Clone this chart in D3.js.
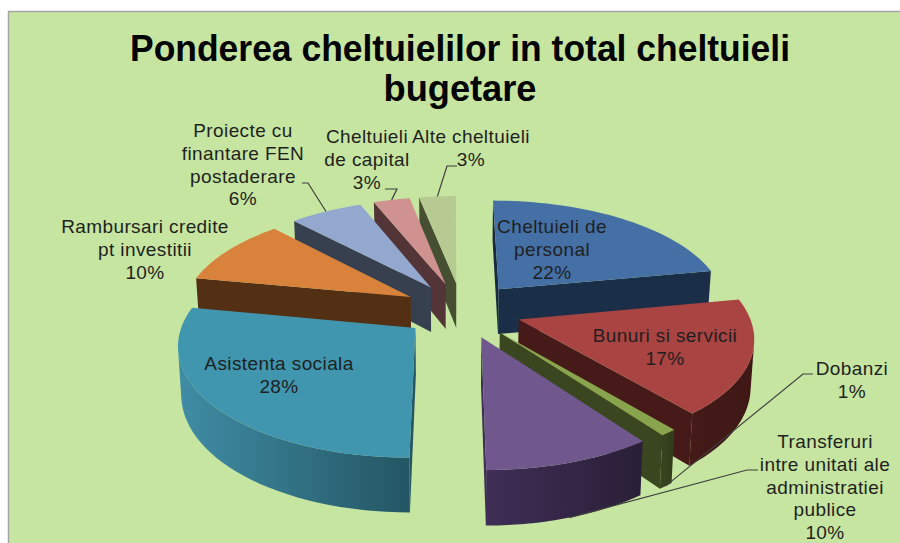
<!DOCTYPE html>
<meta charset="utf-8">
<head>
<title>Ponderea cheltuielilor</title>
<style>
  html, body { margin: 0; padding: 0; background: #fff; }
  svg { display: block; }
  text { font-family: "Liberation Sans", Arial, sans-serif; }
  .lbl { font-size: 19px; letter-spacing: .4px; fill: #1f1f1f; text-anchor: middle; }
  .title { font-size: 37px; font-weight: bold; fill: #000; text-anchor: middle; }
  .leader { fill: none; stroke: #3f3f3f; stroke-width: 1.2px; }
</style>
</head>
<body>
<svg id="chart" width="900" height="543"></svg>
<script src="https://d3js.org/d3.v7.min.js"></script>
<script>
var categories = ["Cheltuieli de personal", "Bunuri si servicii", "Dobanzi",
  "Transferuri intre unitati ale administratiei publice", "Asistenta sociala",
  "Rambursari credite pt investitii", "Proiecte cu finantare FEN postaderare",
  "Cheltuieli de capital", "Alte cheltuieli"];
var values = [22, 17, 1, 10, 28, 10, 6, 3, 3];
var titleLines = ["Ponderea cheltuielilor in total cheltuieli", "bugetare"];
var titleWidths = [660, 153];

var topColors  = ["#4570a5", "#a94442", "#88a54d", "#70578e", "#4096ae", "#d9823b", "#92a8cf", "#cf9291", "#b6ca92"];
var sideLight  = ["#1b2e47", "#451a18", "#39461f", "#402e56", "#3f8ca4", "#5a3416", "#3a4659", "#5a3b3e", "#4e5639"];
var sideDark   = ["#192a40", "#3f1816", "#323e1b", "#2a1f38", "#245664", "#532f13", "#36404f", "#533538", "#474f33"];

// label position and the wrapped lines, one entry per category
var labelLines = [
  ["Cheltuieli de", "personal", "22%"],
  ["Bunuri si servicii", "17%"],
  ["Dobanzi", "1%"],
  ["Transferuri", "intre unitati ale", "administratiei", "publice", "10%"],
  ["Asistenta sociala", "28%"],
  ["Rambursari credite", "pt investitii", "10%"],
  ["Proiecte cu", "finantare FEN", "postaderare", "6%"],
  ["Cheltuieli", "de capital", "3%"],
  ["Alte cheltuieli", "3%"]
];
var labelX = [552, 665, 852, 825, 279, 145, 243, 367, 471];
var labelY = [233, 342, 375, 448, 370, 233, 137, 143, 143];
// leader line: where it starts near the label, and its horizontal stub
var leaderFrom = [null, null, [813, 374], [758, 470], null, null, [302, 183], [385, 189], [457, 166]];
var leaderBend = [null, null, [803, 374], [747, 470], null, null, [308, 183], [397, 189], [447, 166]];
var leaderLevel = [0, 0, 1, 1, 0, 0, 0, 0, 0];

var svg = d3.select("#chart");

// 3d set up, fitted to the picture: plan coords u (right), v (away), level z 0..1
var R = 216, explode = 56, thick = 46;
var xVanish = 452, xOffset = 10, yHorizon = -460, yRange = 770, camDist = 1565, xStretch = 1.06;

function project(u, v, z) {
  var w = 1 / (1 + v / camDist);
  var wx = w * (1 - 0.012 * z);
  return [xVanish + wx * (xOffset + u * xStretch), yHorizon + yRange * w + z * thick * w];
}

var pie = d3.pie().sort(null).value(function(d) { return d; })(values);
var line = d3.line();

function slicePoint(d, a, z) {
  var mid = (d.startAngle + d.endAngle) / 2;
  return project(R * Math.sin(a) + explode * Math.sin(mid), R * Math.cos(a) + explode * Math.cos(mid), z);
}
function apex(d, z) {
  var mid = (d.startAngle + d.endAngle) / 2;
  return project(explode * Math.sin(mid), explode * Math.cos(mid), z);
}
function arcPoints(d, z) {
  return d3.range(0, 41).map(function(i) {
    return slicePoint(d, d.startAngle + (d.endAngle - d.startAngle) * i / 40, z);
  });
}

svg.append("rect").attr("x", 8.5).attr("y", 11.5).attr("width", 900).attr("height", 540)
  .attr("fill", "#c6e5a0").attr("stroke", "#a6a6a6").attr("stroke-width", 1.5);

var defs = svg.append("defs");

// back slices first so the front ones cover them
var drawOrder = [8, 7, 6, 5, 4, 0, 1, 2, 3];
drawOrder.forEach(function(i) {
  var d = pie[i];
  var g = svg.append("g").attr("class", "slice");
  var top = arcPoints(d, 0), bottom = arcPoints(d, 1);

  var xs = bottom.map(function(p) { return p[0]; });
  var grad = defs.append("linearGradient").attr("id", "side" + i)
    .attr("gradientUnits", "userSpaceOnUse")
    .attr("x1", d3.min(xs)).attr("x2", d3.max(xs)).attr("y1", 0).attr("y2", 0);
  grad.append("stop").attr("offset", 0).attr("stop-color", sideLight[i]);
  grad.append("stop").attr("offset", 1).attr("stop-color", sideDark[i]);

  // outer rim, only the stretch that faces the camera
  var front = d3.range(0, 40).filter(function(k) {
    return d3.polygonArea([top[k], top[k + 1], bottom[k + 1], bottom[k]]) > 0;
  });
  if (front.length) {
    var k0 = front[0], k1 = front[front.length - 1] + 1;
    g.append("path")
      .attr("d", line(top.slice(k0, k1 + 1).concat(bottom.slice(k0, k1 + 1).reverse())) + "Z")
      .attr("fill", "url(#side" + i + ")");
  }

  // the two radial walls, only the ones that face the camera
  [[top[0], d.startAngle, 1], [top[40], d.endAngle, -1]].forEach(function(w) {
    var poly = [apex(d, 0), w[0], slicePoint(d, w[1], 1), apex(d, 1)];
    if (d3.polygonArea(poly) * w[2] < 0) return;
    g.append("path").attr("d", line(poly) + "Z").attr("fill", w[2] > 0 ? sideDark[i] : sideLight[i]);
  });

  g.append("path")
    .attr("d", line([apex(d, 0)].concat(top)) + "Z")
    .attr("fill", topColors[i]);
});

// leader lines end on the outer rim of their slice
pie.forEach(function(d, i) {
  if (!leaderFrom[i]) return;
  var mid = (d.startAngle + d.endAngle) / 2;
  svg.append("path").attr("class", "leader")
    .attr("d", line([leaderFrom[i], leaderBend[i], slicePoint(d, mid, leaderLevel[i])]));
});

labelLines.forEach(function(lines, i) {
  var t = svg.append("text").attr("class", "lbl").attr("y", labelY[i]);
  lines.forEach(function(s, k) {
    t.append("tspan").attr("x", labelX[i]).attr("dy", k ? 22.8 : 0).text(s);
  });
});

titleLines.forEach(function(s, k) {
  svg.append("text").attr("class", "title").attr("x", 460).attr("y", 61 + k * 40)
    .attr("textLength", titleWidths[k]).attr("lengthAdjust", "spacingAndGlyphs").text(s);
});
</script>
</body>
